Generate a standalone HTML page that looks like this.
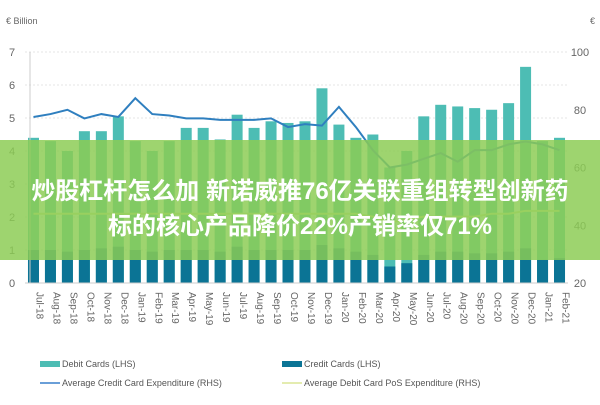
<!DOCTYPE html>
<html><head><meta charset="utf-8"><style>
body{margin:0;width:600px;height:400px;background:#fff;overflow:hidden;font-family:"Liberation Sans",sans-serif}
#wrap{position:relative;width:600px;height:400px}
#banner{position:absolute;left:0;top:140px;width:600px;height:120px;background:rgba(140,204,84,0.84)}
#banner div{color:#fff;font-family:"Liberation Sans","Noto Sans CJK SC",sans-serif;font-weight:bold;font-size:24px;text-align:center;position:absolute;left:0;width:600px;white-space:nowrap}
</style></head><body><div id="wrap">
<svg id="chart" width="600" height="400"></svg>
<div id="banner">
<div style="top:31px">炒股杠杆怎么加 新诺威推76亿关联重组转型创新药</div>
<div style="top:66px">标的核心产品降价22%产销率仅71%</div>
</div></div>
<script>
const categories=["Jul-18","Aug-18","Sep-18","Oct-18","Nov-18","Dec-18","Jan-19","Feb-19","Mar-19","Apr-19","May-19","Jun-19","Jul-19","Aug-19","Sep-19","Oct-19","Nov-19","Dec-19","Jan-20","Feb-20","Mar-20","Apr-20","May-20","Jun-20","Jul-20","Aug-20","Sep-20","Oct-20","Nov-20","Dec-20","Jan-21","Feb-21"];
const debit=[4.4,4.3,4.0,4.6,4.6,5.05,4.3,4.0,4.3,4.7,4.7,4.35,5.1,4.7,4.9,4.85,4.9,5.9,4.8,4.4,4.5,3.5,4.0,5.05,5.4,5.35,5.3,5.25,5.45,6.55,4.3,4.4];
const credit=[1.0,1.0,0.95,1.0,1.05,1.1,1.0,0.95,1.0,1.0,1.0,0.95,1.1,1.0,1.0,1.0,1.0,1.15,1.05,0.95,0.85,0.5,0.6,0.85,0.95,0.95,0.9,0.9,0.95,1.05,0.7,0.75];
const avgCredit=[77.5,78.5,80,77,78.5,77.5,84,78.5,78,77,77,76.5,76.5,76.5,77,74,75,74.5,81,74,66,60,61,63,65,62,66,66,68,69,68,66];
const avgDebit=[44,44,44,44,44,44,44,44,44,44,44,44,44,44,44,44,44,44,44,44,43,41,42,43,43,43,43,44,44,45,45,45];
const leftTicks=[0,1,2,3,4,5,6,7];
const rightTicks=[20,40,60,80,100];
const NS="http://www.w3.org/2000/svg",svg=document.getElementById('chart');
const X0=25,X1=568,Y0=283,Y1=52;
const step=(X1-X0)/categories.length;
const xc=i=>X0+step*(i+0.5);
const yL=v=>Y0-(v/7)*(Y0-Y1);
const yR=v=>Y0-((v-20)/80)*(Y0-Y1);
function el(t,a){const e=document.createElementNS(NS,t);for(const k in a)e.setAttribute(k,a[k]);svg.appendChild(e);return e;}
leftTicks.forEach(v=>{const g=el('line',{x1:X0,x2:X1,y1:yL(v),y2:yL(v),stroke:'#e6e6e6','stroke-dasharray':'2,2'});

const t=el('text',{x:12,y:yL(v)+4,'font-size':11,fill:'#666','text-anchor':'middle'});t.textContent=v;
});
rightTicks.forEach(v=>{const t=el('text',{x:580,y:yR(v)+4,'font-size':11,fill:'#666','text-anchor':'middle'});t.textContent=v;
});
let t=el('text',{x:6,y:24,'font-size':9,fill:'#666'});t.textContent='€ Billion';

t=el('text',{x:590,y:24,'font-size':9,fill:'#666'});t.textContent='€';

categories.forEach((c,i)=>{const bw=11;
const b1=el('rect',{x:xc(i)-bw/2,y:yL(debit[i]),width:bw,height:Y0-yL(debit[i]),fill:'#4dbdb4'});

const b2=el('rect',{x:xc(i)-bw/2,y:yL(credit[i]),width:bw,height:Y0-yL(credit[i]),fill:'#0b7495'});

const l=el('text',{transform:`translate(${xc(i)+3},292) rotate(90)`,'font-size':10,fill:'#666'});l.textContent=c;
});
let p=el('polyline',{points:avgCredit.map((v,i)=>xc(i)+','+yR(v)).join(' '),fill:'none',stroke:'#2f7fbf','stroke-width':2});

p=el('polyline',{points:avgDebit.map((v,i)=>xc(i)+','+yR(v)).join(' '),fill:'none',stroke:'#dfe79a','stroke-width':2});

el('line',{x1:X0+5,x2:X0+5,y1:Y1,y2:Y0,stroke:'#ccc'});
el('line',{x1:X0,x2:X1,y1:Y0,y2:Y0,stroke:'#ccc'});
const leg=[[40,364,'rect','#4dbdb4','Debit Cards (LHS)'],[282,364,'rect','#0b7495','Credit Cards (LHS)'],[40,383,'line','#6a9fd8','Average Credit Card Expenditure (RHS)'],[282,383,'line','#e4ecb0','Average Debit Card PoS Expenditure (RHS)']];
leg.forEach(d=>{let s=d[2]=='rect'?el('rect',{x:d[0],y:d[1]-3,width:20,height:6,fill:d[3]}):el('line',{x1:d[0],x2:d[0]+20,y1:d[1],y2:d[1],stroke:d[3],'stroke-width':2});

const tx=el('text',{x:d[0]+22,y:d[1]+3,'font-size':9,fill:'#555'});tx.textContent=d[4];
});
</script></body></html>
